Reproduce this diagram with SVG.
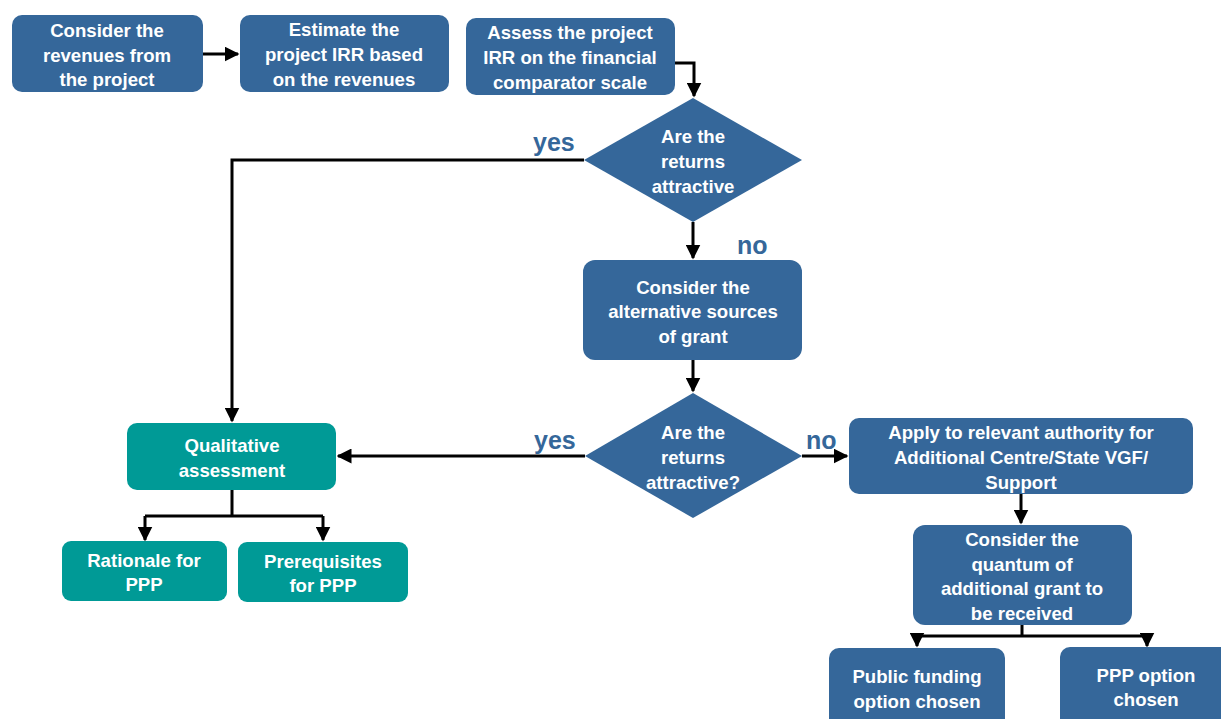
<svg xmlns="http://www.w3.org/2000/svg" width="1221" height="719" viewBox="0 0 1221 719">
  <style>
    .blue { fill: #35679a; }
    .teal { fill: #009a96; }
    .t { font-family: "Liberation Sans", Arial, sans-serif; font-weight: bold; font-size: 18.6px; fill: #ffffff; text-anchor: middle; }
    .lbl { font-family: "Liberation Sans", Arial, sans-serif; font-weight: bold; font-size: 25px; fill: #35679a; }
    .wire { fill: none; stroke: #000000; stroke-width: 3; }
  </style>
  <defs>
    <marker id="arrow" viewBox="0 0 10 10" refX="9" refY="5" markerWidth="5" markerHeight="5" markerUnits="strokeWidth" orient="auto">
      <path d="M0,0 L10,5 L0,10 z" fill="#000000"/>
    </marker>
  </defs>
  <rect width="1221" height="719" fill="#ffffff"/>

  <g id="connectors">
    <path class="wire" d="M203,54 H238" marker-end="url(#arrow)"/>
    <path class="wire" d="M675,63 H694 V96" marker-end="url(#arrow)"/>
    <path class="wire" d="M584,160 H232 V421" marker-end="url(#arrow)"/>
    <path class="wire" d="M693,222 V258" marker-end="url(#arrow)"/>
    <path class="wire" d="M693,360 V391" marker-end="url(#arrow)"/>
    <path class="wire" d="M585,456 H338" marker-end="url(#arrow)"/>
    <path class="wire" d="M802,456 H847" marker-end="url(#arrow)"/>
    <path class="wire" d="M1021,494 V523" marker-end="url(#arrow)"/>
    <path class="wire" d="M1022,625 V636 M917,636 H1147 M917,636 V646" marker-end="url(#arrow)"/>
    <path class="wire" d="M1147,636 V646" marker-end="url(#arrow)"/>
    <path class="wire" d="M232,490 V516 M145,516 H323 M145,516 V540" marker-end="url(#arrow)"/>
    <path class="wire" d="M323,516 V540" marker-end="url(#arrow)"/>
    <text class="lbl" x="533" y="151">yes</text>
    <text class="lbl" x="737" y="254">no</text>
    <text class="lbl" x="534" y="449">yes</text>
    <text class="lbl" x="806" y="449">no</text>
  </g>

  <g id="revenues">
    <rect class="blue" x="12" y="15" width="191" height="77" rx="10"/>
    <text class="t" x="107" y="37">Consider the</text>
    <text class="t" x="107" y="62">revenues from</text>
    <text class="t" x="107" y="86">the project</text>
  </g>
  <g id="estimate-irr">
    <rect class="blue" x="240" y="15" width="209" height="77" rx="10"/>
    <text class="t" x="344" y="36">Estimate the</text>
    <text class="t" x="344" y="61">project IRR based</text>
    <text class="t" x="344" y="86">on the revenues</text>
  </g>
  <g id="assess-irr">
    <rect class="blue" x="466" y="18" width="209" height="77" rx="10"/>
    <text class="t" x="570" y="39">Assess the project</text>
    <text class="t" x="570" y="64">IRR on the financial</text>
    <text class="t" x="570" y="89">comparator scale</text>
  </g>
  <g id="decision-1">
    <polygon class="blue" points="693,98 802,160 693,222 584,160"/>
    <text class="t" x="693" y="143">Are the</text>
    <text class="t" x="693" y="168">returns</text>
    <text class="t" x="693" y="193">attractive</text>
  </g>
  <g id="alternative-grant">
    <rect class="blue" x="583" y="260" width="219" height="100" rx="12"/>
    <text class="t" x="693" y="294">Consider the</text>
    <text class="t" x="693" y="318">alternative sources</text>
    <text class="t" x="693" y="343">of grant</text>
  </g>
  <g id="decision-2">
    <polygon class="blue" points="693,393 802,456 693,518 585,456"/>
    <text class="t" x="693" y="439">Are the</text>
    <text class="t" x="693" y="464">returns</text>
    <text class="t" x="693" y="489">attractive?</text>
  </g>
  <g id="apply-authority">
    <rect class="blue" x="849" y="418" width="344" height="76" rx="10"/>
    <text class="t" x="1021" y="439">Apply to relevant authority for</text>
    <text class="t" x="1021" y="464">Additional Centre/State VGF/</text>
    <text class="t" x="1021" y="489">Support</text>
  </g>
  <g id="grant-quantum">
    <rect class="blue" x="913" y="525" width="219" height="100" rx="12"/>
    <text class="t" x="1022" y="546">Consider the</text>
    <text class="t" x="1022" y="571">quantum of</text>
    <text class="t" x="1022" y="595">additional grant to</text>
    <text class="t" x="1022" y="620">be received</text>
  </g>
  <g id="public-funding">
    <rect class="blue" x="829" y="648" width="176" height="85" rx="10"/>
    <text class="t" x="917" y="683">Public funding</text>
    <text class="t" x="917" y="708">option chosen</text>
  </g>
  <g id="ppp-option">
    <rect class="blue" x="1060" y="647" width="175" height="86" rx="10"/>
    <text class="t" x="1146" y="682">PPP option</text>
    <text class="t" x="1146" y="706">chosen</text>
  </g>
  <g id="qualitative">
    <rect class="teal" x="127" y="423" width="209" height="67" rx="10"/>
    <text class="t" x="232" y="452">Qualitative</text>
    <text class="t" x="232" y="477">assessment</text>
  </g>
  <g id="rationale">
    <rect class="teal" x="62" y="541" width="165" height="60" rx="9"/>
    <text class="t" x="144" y="567">Rationale for</text>
    <text class="t" x="144" y="591">PPP</text>
  </g>
  <g id="prerequisites">
    <rect class="teal" x="238" y="542" width="170" height="60" rx="9"/>
    <text class="t" x="323" y="568">Prerequisites</text>
    <text class="t" x="323" y="592">for PPP</text>
  </g>
</svg>
